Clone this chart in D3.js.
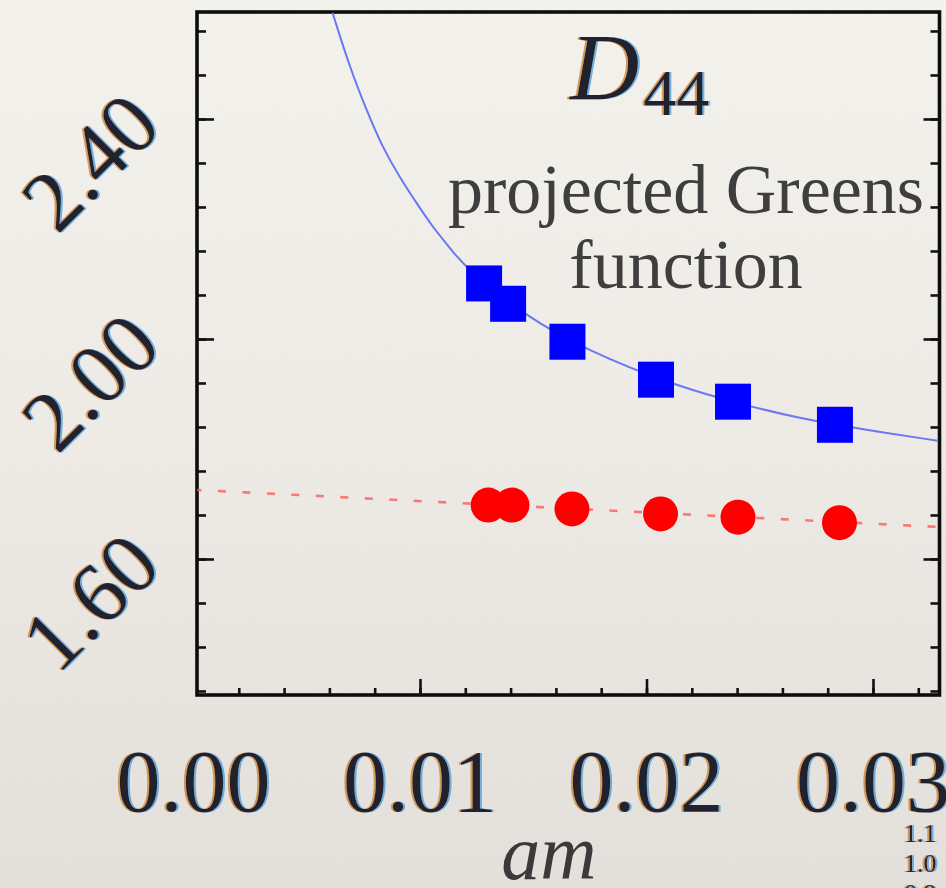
<!DOCTYPE html>
<html>
<head>
<meta charset="utf-8">
<script src="https://cdn.jsdelivr.net/npm/d3@7/dist/d3.min.js"></script>
<style>
  html, body { margin: 0; padding: 0; }
  body {
    width: 946px; height: 888px; overflow: hidden;
    background: linear-gradient(#f5f3ee 0%, #efece7 50%, #e4e1dc 100%);
  }
  svg { display: block; }
</style>
</head>
<body>
<svg id="chart" width="946" height="888"></svg>
<script>
// ---- data -------------------------------------------------------------
// D44 from the projected Greens function (blue squares)
const amBlue  = [0.01283, 0.01389, 0.01651, 0.02042, 0.02382, 0.02832];
const d44Blue = [2.101, 2.064, 1.995, 1.926, 1.886, 1.844];
// second data set (red circles)
const amRed   = [0.01301, 0.01406, 0.01671, 0.02062, 0.02404, 0.02852];
const d44Red  = [1.698, 1.698, 1.691, 1.682, 1.676, 1.666];
// fit curve through the blue points
const fitBlueAm  = [0.00614, 0.00689, 0.00764, 0.00834, 0.00909, 0.00985, 0.01055, 0.01130,
                    0.01196, 0.01470, 0.01735, 0.02115, 0.02468, 0.02676, 0.02918, 0.03285];
const fitBlueVal = [2.593, 2.495, 2.416, 2.349, 2.295, 2.247, 2.204, 2.167,
                    2.131, 2.040, 1.980, 1.916, 1.876, 1.856, 1.838, 1.815];
// linear fit through the red points
const fitRedAm  = [0.0000, 0.0330];
const fitRedVal = [1.7258, 1.6580];
// axes
const xTickValues = [0.00, 0.01, 0.02, 0.03];
const xTickLabels = ["0.00", "0.01", "0.02", "0.03"];
const yTickValues = [1.60, 2.00, 2.40];
const yTickLabels = ["1.60", "2.00", "2.40"];
const xMinorStep = 0.002;
const yMinorStep = 0.08;
const xLabel = "am";
const annotationMain = "D";
const annotationSub = "44";
const annotationLines = ["projected Greens", "function"];
const cornerLabels = ["1.1", "1.0", "0.9"];

// ---- layout -----------------------------------------------------------
const svg = d3.select("#chart");
const L = 197, R = 939.5, T = 12, B = 695;
const x = d3.scaleLinear().domain([0.000155, 0.032936]).range([L, R]);
const y = d3.scaleLinear().domain([1.3527, 2.5945]).range([B, T]);

const ink = "#20202e";
const serif = "'Liberation Serif', 'Times New Roman', serif";

const defs = svg.append("defs");

// light paper grain
const grain = defs.append("filter").attr("id", "grain").attr("x", 0).attr("y", 0)
  .attr("width", "100%").attr("height", "100%");
grain.append("feTurbulence").attr("type", "fractalNoise").attr("baseFrequency", 0.9)
  .attr("numOctaves", 2).attr("seed", 4).attr("result", "n");
grain.append("feColorMatrix").attr("type", "matrix")
  .attr("values", "0 0 0 0 0.45  0 0 0 0 0.43  0 0 0 0 0.40  0 0 0 0.05 0");
svg.append("rect").attr("width", 946).attr("height", 888).attr("filter", "url(#grain)");

// warm/cool colour fringe around the serif labels
const fr = defs.append("filter").attr("id", "fringe")
  .attr("x", "-10%").attr("y", "-10%").attr("width", "120%").attr("height", "120%");
fr.append("feOffset").attr("in", "SourceAlpha").attr("dx", -1.6).attr("dy", 0).attr("result", "offL");
fr.append("feFlood").attr("flood-color", "#c9812f").attr("flood-opacity", 0.75).attr("result", "warm");
fr.append("feComposite").attr("in", "warm").attr("in2", "offL").attr("operator", "in").attr("result", "warmEdge");
fr.append("feOffset").attr("in", "SourceAlpha").attr("dx", 1.6).attr("dy", 0).attr("result", "offR");
fr.append("feFlood").attr("flood-color", "#4f9bd6").attr("flood-opacity", 0.75).attr("result", "cool");
fr.append("feComposite").attr("in", "cool").attr("in2", "offR").attr("operator", "in").attr("result", "coolEdge");
const merge = fr.append("feMerge");
merge.append("feMergeNode").attr("in", "warmEdge");
merge.append("feMergeNode").attr("in", "coolEdge");
merge.append("feMergeNode").attr("in", "SourceGraphic");

defs.append("clipPath").attr("id", "plotClip")
  .append("rect").attr("x", L).attr("y", T).attr("width", R - L).attr("height", B - T);

function fringeText(parent, txt, transform, size, attrs = {}) {
  const t = parent.append("g").attr("filter", "url(#fringe)")
    .append("text").text(txt)
    .attr("transform", transform)
    .attr("font-family", serif).attr("font-size", size).attr("fill", ink);
  Object.entries(attrs).forEach(([k, v]) => t.attr(k, v));
  return t;
}

// ---- axes (ticks point inward) -----------------------------------------
const xMinor = d3.range(0, 0.0331, xMinorStep).filter(v => v >= x.domain()[0] && v <= x.domain()[1]);
const yMinor = d3.range(1.36, 2.60, yMinorStep).filter(v => v >= y.domain()[0] && v <= y.domain()[1]);

function styleAxis(g) {
  g.select(".domain").remove();
  g.selectAll("line").attr("stroke", "#111").attr("stroke-width", 2.6);
}

svg.append("g").attr("transform", `translate(0,${B})`)
  .call(d3.axisBottom(x).tickValues(xMinor).tickSize(-7).tickFormat(""))
  .call(styleAxis);
svg.append("g").attr("transform", `translate(0,${B})`)
  .call(d3.axisBottom(x).tickValues(xTickValues.filter(v => v >= x.domain()[0])).tickSize(-16).tickFormat(""))
  .call(styleAxis);
svg.append("g").attr("transform", `translate(${L},0)`)
  .call(d3.axisLeft(y).tickValues(yMinor).tickSize(-9).tickFormat(""))
  .call(styleAxis);
svg.append("g").attr("transform", `translate(${L},0)`)
  .call(d3.axisLeft(y).tickValues(yTickValues).tickSize(-17).tickFormat(""))
  .call(styleAxis);
svg.append("g").attr("transform", `translate(${R},0)`)
  .call(d3.axisRight(y).tickValues(yMinor).tickSize(-9).tickFormat(""))
  .call(styleAxis);
svg.append("g").attr("transform", `translate(${R},0)`)
  .call(d3.axisRight(y).tickValues(yTickValues).tickSize(-16).tickFormat(""))
  .call(styleAxis);

// frame
svg.append("rect").attr("x", L).attr("y", T).attr("width", R - L).attr("height", B - T)
  .attr("fill", "none").attr("stroke", "#0d0d0d").attr("stroke-width", 3.6);

// tick labels
xTickValues.forEach((v, i) => {
  fringeText(svg, xTickLabels[i], `translate(${x(v)},${B + 116})`, 88, { "text-anchor": "middle" });
});
yTickValues.forEach((v, i) => {
  fringeText(svg, yTickLabels[i], `translate(${L - 33},${y(v) + 10}) rotate(-45)`, 86, { "text-anchor": "end" });
});

// axis title
svg.append("text").text(xLabel)
  .attr("x", 549).attr("y", 879).attr("text-anchor", "middle")
  .attr("font-family", serif).attr("font-style", "italic").attr("font-size", 78)
  .attr("fill", "#3a3a3a");

// ---- fits and markers ----------------------------------------------------
const plot = svg.append("g").attr("clip-path", "url(#plotClip)");

const blueFit = fitBlueAm.map((a, i) => [a, fitBlueVal[i]]);
plot.append("path").datum(blueFit)
  .attr("d", d3.line().x(d => x(d[0])).y(d => y(d[1])).curve(d3.curveBasis))
  .attr("fill", "none").attr("stroke", "#6a78f4").attr("stroke-width", 2);

const redFit = fitRedAm.map((a, i) => [a, fitRedVal[i]]);
plot.append("path").datum(redFit)
  .attr("d", d3.line().x(d => x(d[0])).y(d => y(d[1])))
  .attr("fill", "none").attr("stroke", "#ff5a5a").attr("stroke-opacity", 0.8)
  .attr("stroke-width", 2.6).attr("stroke-dasharray", "8,16.5");

const sq = 36;
plot.selectAll("rect.blue").data(amBlue.map((a, i) => [a, d44Blue[i]])).enter()
  .append("rect").attr("class", "blue")
  .attr("x", d => x(d[0]) - sq / 2).attr("y", d => y(d[1]) - sq / 2)
  .attr("width", sq).attr("height", sq).attr("fill", "#0000ff");

plot.selectAll("circle.red").data(amRed.map((a, i) => [a, d44Red[i]])).enter()
  .append("circle").attr("class", "red")
  .attr("cx", d => x(d[0])).attr("cy", d => y(d[1])).attr("r", 17.5)
  .attr("fill", "#ff0000");

// ---- annotation ------------------------------------------------------------
const ann = svg.append("g").attr("filter", "url(#fringe)");
const label = ann.append("text").attr("font-family", serif).attr("fill", ink)
  .attr("x", 570).attr("y", 100);
label.append("tspan").text(annotationMain).attr("font-style", "italic").attr("font-size", 96);
label.append("tspan").text(annotationSub).attr("font-size", 66).attr("dx", 4).attr("dy", 15);

annotationLines.forEach((s, i) => {
  svg.append("text").text(s)
    .attr("x", 686).attr("y", 213 + i * 75).attr("text-anchor", "middle")
    .attr("font-family", serif).attr("font-size", 70).attr("fill", "#3e3e3e");
});

// small stacked labels at the lower right corner
cornerLabels.forEach((s, i) => {
  fringeText(svg, s, `translate(904,${842 + i * 30})`, 26);
});
</script>
</body>
</html>
